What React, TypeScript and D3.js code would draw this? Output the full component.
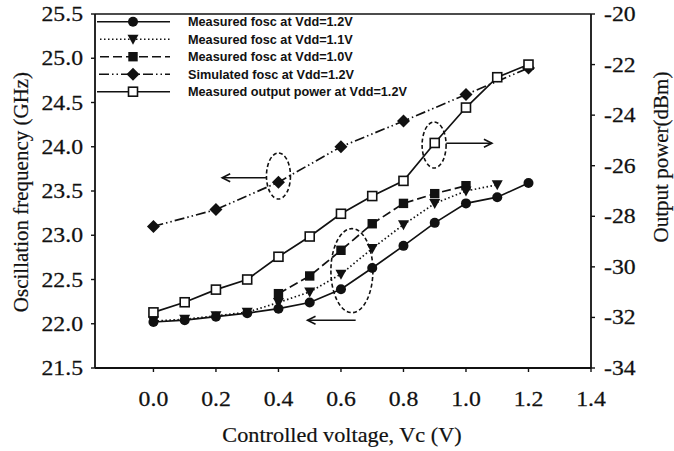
import * as d3 from 'd3'

// x positions (Vc, V)
const vc = [0, 0.1, 0.2, 0.3, 0.4, 0.5, 0.6, 0.7, 0.8, 0.9, 1.0, 1.1, 1.2]
const fosc12 = [22.02, 22.04, 22.08, 22.12, 22.17, 22.24, 22.39, 22.63, 22.88, 23.14, 23.36, 23.43, 23.59]
const vc11 = [0, 0.1, 0.2, 0.3, 0.4, 0.5, 0.6, 0.7, 0.8, 0.9, 1.0, 1.1]
const fosc11 = [22.03, 22.05, 22.09, 22.13, 22.24, 22.36, 22.56, 22.85, 23.12, 23.36, 23.5, 23.57]
const vc10 = [0.4, 0.5, 0.6, 0.7, 0.8, 0.9, 1.0]
const fosc10 = [22.34, 22.54, 22.83, 23.13, 23.36, 23.47, 23.56]
const vcSim = [0, 0.2, 0.4, 0.6, 0.8, 1.0, 1.2]
const foscSim = [23.1, 23.29, 23.6, 24.0, 24.29, 24.59, 24.89]
const power = [-31.8, -31.4, -30.9, -30.5, -29.6, -28.8, -27.9, -27.2, -26.6, -25.1, -23.7, -22.5, -22.0]

const xTicks = [0, 0.2, 0.4, 0.6, 0.8, 1.0, 1.2, 1.4]
const leftTicks = [21.5, 22.0, 22.5, 23.0, 23.5, 24.0, 24.5, 25.0, 25.5]
const rightTicks = [-34, -32, -30, -28, -26, -24, -22, -20]

const legendLabels = [
  'Measured fosc at Vdd=1.2V',
  'Measured fosc at Vdd=1.1V',
  'Measured fosc at Vdd=1.0V',
  'Simulated fosc at Vdd=1.2V',
  'Measured output power at Vdd=1.2V',
]

// annotation ellipses / arrows in data coords (left axis)
const ellipses = [
  { x: 0.4, y: 23.67, rx: 12, ry: 23 },
  { x: 0.635, y: 22.6, rx: 21, ry: 42 },
  { x: 0.898, y: 24.02, rx: 12, ry: 23 },
]
const arrows = [
  { x1: 0.36, x2: 0.22, y: 23.65 },
  { x1: 0.647, x2: 0.493, y: 22.04 },
  { x1: 0.937, x2: 1.083, y: 24.04 },
]

const W = 674
const H = 451
const left = 95
const right = 591
const top = 14
const bottom = 368

const serif = '"Liberation Serif", "Times New Roman", serif'
const sans = '"Liberation Sans", Arial, sans-serif'
const ink = '#111'

type Kind = 'circle' | 'tri' | 'square' | 'diamond' | 'open'

function Marker({ kind, x, y }: { kind: Kind; x: number; y: number }) {
  if (kind === 'circle') return <circle cx={x} cy={y} r={5} fill={ink} />
  if (kind === 'tri')
    return <path d={`M${x - 5.5},${y - 4.5}L${x + 5.5},${y - 4.5}L${x},${y + 5.5}Z`} fill={ink} />
  if (kind === 'square') return <rect x={x - 4.7} y={y - 4.7} width={9.4} height={9.4} fill={ink} />
  if (kind === 'diamond')
    return <path d={`M${x},${y - 6.5}L${x + 6.5},${y}L${x},${y + 6.5}L${x - 6.5},${y}Z`} fill={ink} />
  return <rect x={x - 4.5} y={y - 4.5} width={9} height={9} fill="#fff" stroke={ink} strokeWidth={1.6} />
}

// serif label, stretched a little horizontally like the scanned figure
function Label({ x, y, anchor, children }: { x: number; y: number; anchor: string; children: any }) {
  return (
    <text
      transform={`translate(${x},${y}) scale(1.13,1)`}
      textAnchor={anchor}
      fontFamily={serif}
      fontSize={21}
      fill={ink}
      stroke={ink}
      strokeWidth={0.25}
    >
      {children}
    </text>
  )
}

export default function App() {
  const x = d3.scaleLinear().domain([-0.187, 1.4]).range([left, right])
  const yL = d3.scaleLinear().domain([21.5, 25.5]).range([bottom, top])
  const yR = d3.scaleLinear().domain([-34, -20]).range([bottom, top])

  const line = (xs: number[], ys: number[], sy: d3.ScaleLinear<number, number>) =>
    d3.line<number>().x((d) => x(d)).y((_, i) => sy(ys[i]))(xs) || ''

  const series: { xs: number[]; ys: number[]; sy: d3.ScaleLinear<number, number>; kind: Kind; dash?: string }[] = [
    { xs: vcSim, ys: foscSim, sy: yL, kind: 'diamond', dash: '10,3,1.5,3,1.5,3' },
    { xs: vc10, ys: fosc10, sy: yL, kind: 'square', dash: '9,4' },
    { xs: vc11, ys: fosc11, sy: yL, kind: 'tri', dash: '1.5,2.5' },
    { xs: vc, ys: fosc12, sy: yL, kind: 'circle' },
    { xs: vc, ys: power, sy: yR, kind: 'open' },
  ]

  const legendRows: { kind: Kind; dash?: string; x0: number }[] = [
    { kind: 'circle', x0: 97 },
    { kind: 'tri', dash: '1.5,2.5', x0: 100 },
    { kind: 'square', dash: '9,4', x0: 100 },
    { kind: 'diamond', dash: '10,3,1.5,3,1.5,3', x0: 99 },
    { kind: 'open', x0: 97 },
  ]

  return (
    <svg width={W} height={H} style={{ position: 'absolute', left: 0, top: 0, background: '#fff' }}>
      {/* frame */}
      <line x1={left} x2={right} y1={top} y2={top} stroke={ink} strokeWidth={1.6} />
      <line x1={left} x2={left} y1={top} y2={bottom} stroke={ink} strokeWidth={1.8} />
      <line x1={right} x2={right} y1={top} y2={bottom} stroke={ink} strokeWidth={1.8} />
      <line x1={left} x2={right} y1={bottom} y2={bottom} stroke={ink} strokeWidth={1.8} />

      {/* axes */}
      {xTicks.map((t) => (
        <g key={'x' + t}>
          <line x1={x(t)} x2={x(t)} y1={bottom} y2={bottom + 4} stroke={ink} strokeWidth={1.4} />
          <Label x={x(t)} y={406} anchor="middle">{t.toFixed(1)}</Label>
        </g>
      ))}
      {leftTicks.map((t) => (
        <g key={'l' + t}>
          <line x1={left - 4} x2={left} y1={yL(t)} y2={yL(t)} stroke={ink} strokeWidth={1.4} />
          <Label x={83} y={yL(t) + 7} anchor="end">{t.toFixed(1)}</Label>
        </g>
      ))}
      {rightTicks.map((t) => (
        <g key={'r' + t}>
          <line x1={right} x2={right + 4} y1={yR(t)} y2={yR(t)} stroke={ink} strokeWidth={1.4} />
          <Label x={604} y={yR(t) + 7} anchor="start">{t}</Label>
        </g>
      ))}

      <text
        transform="translate(342,442) scale(1.06,1)"
        textAnchor="middle"
        fontFamily={serif}
        fontSize={21}
        fill={ink}
        stroke={ink}
        strokeWidth={0.2}
      >
        Controlled voltage, Vc (V)
      </text>
      <text
        transform={`translate(28,192) rotate(-90)`}
        textAnchor="middle"
        fontFamily={serif}
        fontSize={21}
        fill={ink}
        stroke={ink}
        strokeWidth={0.2}
      >
        Oscillation frequency (GHz)
      </text>
      <text
        transform={`translate(668,157) rotate(-90)`}
        textAnchor="middle"
        fontFamily={serif}
        fontSize={21}
        fill={ink}
        stroke={ink}
        strokeWidth={0.2}
      >
        Output power(dBm)
      </text>

      {/* series */}
      {series.map((s, i) => (
        <g key={'s' + i}>
          <path d={line(s.xs, s.ys, s.sy)} fill="none" stroke={ink} strokeWidth={1.7} strokeDasharray={s.dash} />
          {s.xs.map((v, j) => (
            <Marker key={j} kind={s.kind} x={x(v)} y={s.sy(s.ys[j])} />
          ))}
        </g>
      ))}

      {/* annotations */}
      {ellipses.map((e, i) => (
        <ellipse
          key={'e' + i}
          cx={x(e.x)}
          cy={yL(e.y)}
          rx={e.rx}
          ry={e.ry}
          fill="none"
          stroke={ink}
          strokeWidth={1.6}
          strokeDasharray="4,2.5"
        />
      ))}
      {arrows.map((a, i) => {
        const x1 = x(a.x1)
        const x2 = x(a.x2)
        const y = yL(a.y)
        const dir = x2 > x1 ? -1 : 1
        return (
          <g key={'a' + i} stroke={ink} strokeWidth={1.6} fill="none">
            <line x1={x1} x2={x2} y1={y} y2={y} />
            <path d={`M${x2 + dir * 8},${y - 4}L${x2},${y}L${x2 + dir * 8},${y + 4}`} />
          </g>
        )
      })}

      {/* legend */}
      {legendRows.map((r, i) => {
        const ly = 21.7 + i * 17.5
        return (
          <g key={'lg' + i}>
            <line x1={r.x0} x2={170} y1={ly} y2={ly} stroke={ink} strokeWidth={1.5} strokeDasharray={r.dash} />
            <Marker kind={r.kind} x={133} y={ly} />
            <text x={188} y={ly + 4.5} fontFamily={sans} fontSize={12.7} fontWeight="bold" fill={ink}>
              {legendLabels[i]}
            </text>
          </g>
        )
      })}
    </svg>
  )
}
